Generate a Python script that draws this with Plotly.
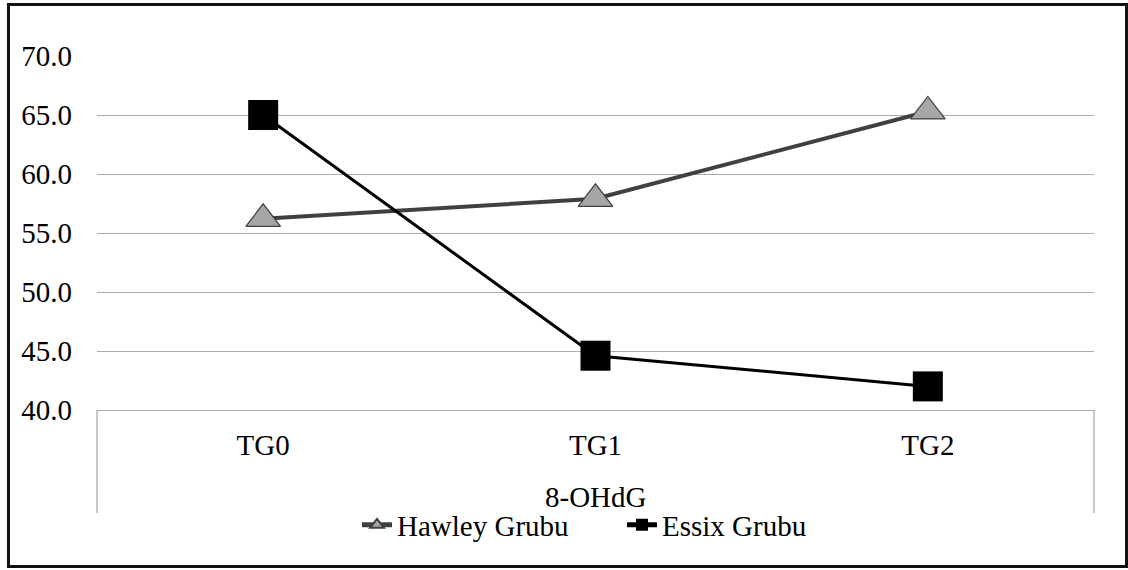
import plotly.graph_objects as go

# Measurement groups and periods
categories = ["TG0", "TG1", "TG2"]
group_label = "8-OHdG"

hawley_name = "Hawley Grubu"
hawley_values = [56.2, 57.9, 65.3]

essix_name = "Essix Grubu"
essix_values = [65.0, 44.6, 42.0]

y_ticks = [40, 45, 50, 55, 60, 65, 70]
y_tick_text = ["40.0", "45.0", "50.0", "55.0", "60.0", "65.0", "70.0"]

FONT = "Liberation Serif, Times New Roman, serif"
FSIZE = 29
GRID = "#ababab"

fig = go.Figure()

fig.add_trace(go.Scatter(
    x=categories, y=hawley_values, name=hawley_name,
    mode="lines+markers",
    line=dict(color="#404040", width=4),
    marker=dict(symbol="triangle-up", size=30, color="#a6a6a6",
                line=dict(color="#404040", width=1.2)),
))

fig.add_trace(go.Scatter(
    x=categories, y=essix_values, name=essix_name,
    mode="lines+markers",
    line=dict(color="#000000", width=3),
    marker=dict(symbol="square", size=30, color="#000000",
                line=dict(color="#000000", width=0)),
))

# vertical sides of the category box under the axis
for xp in (0, 1):
    fig.add_shape(type="line", xref="paper", yref="paper",
                  x0=xp, x1=xp, y0=0, y1=-0.291,
                  line=dict(color=GRID, width=1.3))

# outer chart frame
fig.add_shape(type="rect", xref="paper", yref="paper",
              x0=-0.0888, x1=1.0326, y0=-0.4421, y1=1.1455,
              line=dict(color="#111111", width=3), layer="above")

fig.add_annotation(text=group_label, xref="paper", yref="paper",
                   x=0.5, y=-0.2458, showarrow=False,
                   xanchor="center", yanchor="middle",
                   font=dict(family=FONT, size=FSIZE, color="#000000"))

fig.update_layout(
    width=1128, height=570,
    margin=dict(l=97, r=34, t=56, b=160),
    paper_bgcolor="white", plot_bgcolor="white",
    font=dict(family=FONT, size=FSIZE, color="#000000"),
    showlegend=True,
    legend=dict(orientation="h", x=0.2608, y=-0.3249,
                xanchor="left", yanchor="middle",
                entrywidth=220, entrywidthmode="pixels",
                font=dict(family=FONT, size=FSIZE, color="#000000"),
                itemsizing="constant", bgcolor="rgba(0,0,0,0)"),
    xaxis=dict(type="category", range=[-0.5, 2.5],
               showgrid=False, zeroline=False,
               showline=True, linecolor=GRID, linewidth=1.3,
               ticks="", ticklabelstandoff=9,
               tickfont=dict(family=FONT, size=FSIZE, color="#000000")),
    yaxis=dict(range=[40, 70], tickvals=y_ticks, ticktext=y_tick_text,
               showgrid=True, gridcolor=GRID, gridwidth=1.3,
               zeroline=False, showline=False, ticks="",
               ticklabelstandoff=24,
               tickfont=dict(family=FONT, size=FSIZE, color="#000000")),
)

fig.write_html("out.html")
